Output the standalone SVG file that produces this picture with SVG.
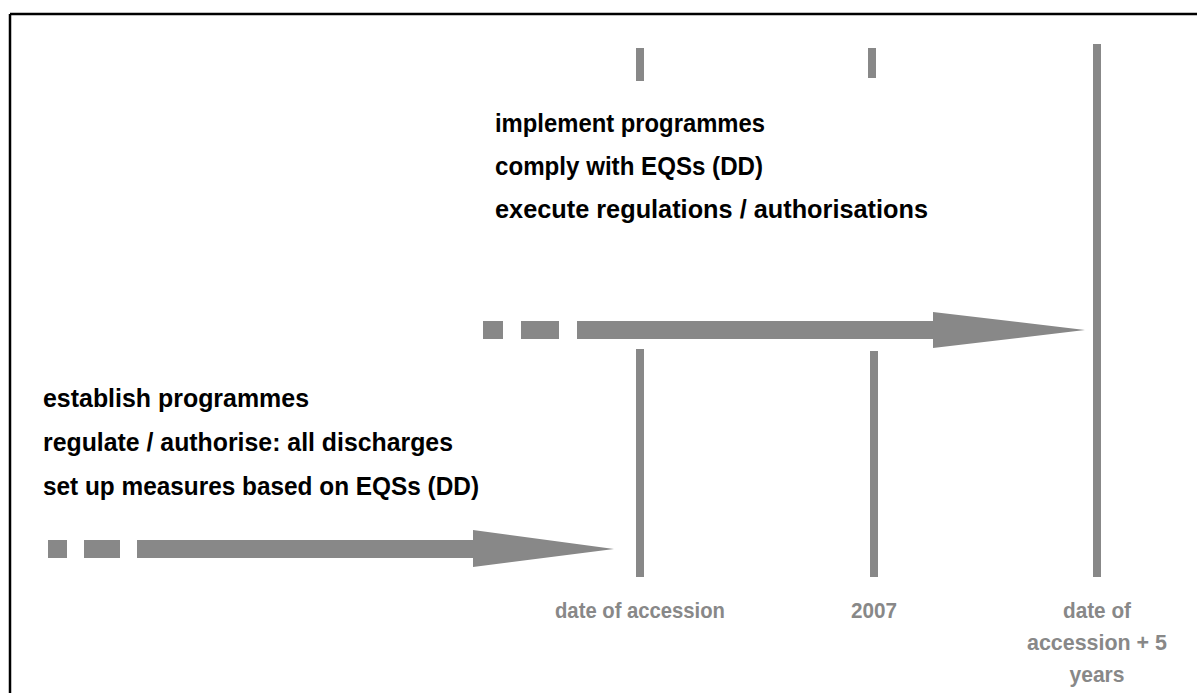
<svg xmlns="http://www.w3.org/2000/svg" width="1197" height="693" viewBox="0 0 1197 693">
  <style>
    .bar { fill: #888888; }
    .task { font-family: "Liberation Sans", Arial, sans-serif; font-weight: bold; font-size: 26px; fill: #000000; }
    .date { font-family: "Liberation Sans", Arial, sans-serif; font-weight: bold; font-size: 21.5px; fill: #888888; text-anchor: middle; }
  </style>
  <rect width="1197" height="693" fill="#ffffff"/>

  <!-- outer frame (open to the right and bottom) -->
  <g id="frame" stroke="#000000" stroke-width="2.5" fill="none">
    <line x1="10" y1="14" x2="1197" y2="14"/>
    <line x1="10" y1="14" x2="10" y2="693"/>
  </g>

  <!-- timeline markers -->
  <g id="marker-accession">
    <rect class="bar" x="636" y="48" width="8" height="33"/>
    <rect class="bar" x="636" y="349" width="8" height="228"/>
    <text class="date" x="640" y="618" textLength="170" lengthAdjust="spacingAndGlyphs">date of accession</text>
  </g>
  <g id="marker-2007">
    <rect class="bar" x="868" y="48" width="8" height="30"/>
    <rect class="bar" x="870" y="351" width="8" height="226"/>
    <text class="date" x="874" y="618" textLength="46" lengthAdjust="spacingAndGlyphs">2007</text>
  </g>
  <g id="marker-accession-plus-5">
    <rect class="bar" x="1093" y="44" width="8" height="533"/>
    <text class="date" x="1097" y="618" textLength="68" lengthAdjust="spacingAndGlyphs">date of</text>
    <text class="date" x="1097" y="650" textLength="140" lengthAdjust="spacingAndGlyphs">accession + 5</text>
    <text class="date" x="1097" y="682" textLength="55" lengthAdjust="spacingAndGlyphs">years</text>
  </g>

  <!-- task lists -->
  <g id="tasks-before-accession">
    <text class="task" x="43" y="407" textLength="266" lengthAdjust="spacingAndGlyphs">establish programmes</text>
    <text class="task" x="43" y="451" textLength="410" lengthAdjust="spacingAndGlyphs">regulate / authorise: all discharges</text>
    <text class="task" x="43" y="495" textLength="436" lengthAdjust="spacingAndGlyphs">set up measures based on EQSs (DD)</text>
  </g>
  <g id="tasks-after-accession">
    <text class="task" x="495" y="132" textLength="270" lengthAdjust="spacingAndGlyphs">implement programmes</text>
    <text class="task" x="495" y="175" textLength="268" lengthAdjust="spacingAndGlyphs">comply with EQSs (DD)</text>
    <text class="task" x="495" y="218" textLength="433" lengthAdjust="spacingAndGlyphs">execute regulations / authorisations</text>
  </g>

  <!-- dashed-tail arrows -->
  <g id="connectors" class="bar">
    <g id="arrow-to-accession">
      <rect x="48" y="540" width="19" height="18"/>
      <rect x="84" y="540" width="36" height="18"/>
      <polygon points="137,540 473,540 473,530 614,549 473,567 473,558 137,558"/>
    </g>
    <g id="arrow-to-accession-plus-5">
      <rect x="483" y="321" width="20" height="18"/>
      <rect x="521" y="321" width="38" height="18"/>
      <polygon points="577,321 933,321 933,312 1085,330 933,348 933,339 577,339"/>
    </g>
  </g>
</svg>
